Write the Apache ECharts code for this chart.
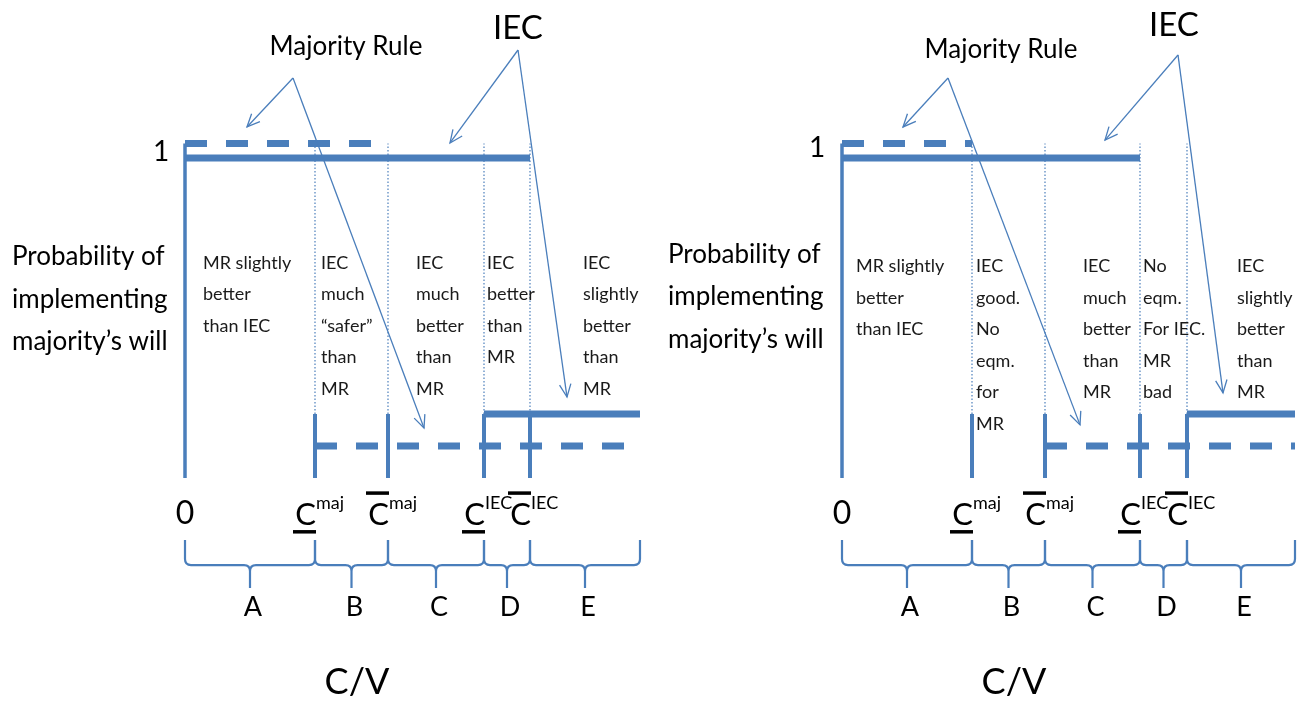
<!DOCTYPE html>
<html>
<head>
<meta charset="utf-8">
<title>MR vs IEC</title>
<script src="https://cdn.jsdelivr.net/npm/echarts@6.0.0/dist/echarts.min.js"></script>
<style>
html, body { margin: 0; padding: 0; background: #fff; }
#chart { width: 1307px; height: 703px; }
</style>
</head>
<body>
<div id="chart"></div>
<script>
// cut points on C/V: 0, C_maj, Cbar_maj, C_IEC, Cbar_IEC ; then end of axis
var cutsLeft = [0, 130, 203, 299, 345];
var endLeft = 455;
var cutsRight = [0, 130, 203, 298, 345];
var endRight = 453;

// probability levels [high, low]. MR is drawn a hair above IEC so both show
var iecLevels = [1, 0.2];
var mrLevels = [1.045, 0.1];

var tickSup = ['', 'maj', 'maj', 'IEC', 'IEC'];
var tickBar = ['', 'under', 'over', 'under', 'over'];
var regionLetters = ['A', 'B', 'C', 'D', 'E'];

var notesLeft = [
    'MR slightly\nbetter\nthan IEC',
    'IEC\nmuch\n“safer”\nthan\nMR',
    'IEC\nmuch\nbetter\nthan\nMR',
    'IEC\nbetter\nthan\nMR',
    'IEC\nslightly\nbetter\nthan\nMR'
];
var notesRight = [
    'MR slightly\nbetter\nthan IEC',
    'IEC\ngood.\nNo\neqm.\nfor\nMR',
    'IEC\nmuch\nbetter\nthan\nMR',
    'No\neqm.\nFor IEC.\nMR\nbad',
    'IEC\nslightly\nbetter\nthan\nMR'
];
var yTitle = 'Probability of\nimplementing\nmajority’s will';
var xTitle = 'C/V';
var mrName = 'Majority Rule';
var iecName = 'IEC';

var blue = '#4a7ebb';
var font = 'Lato, "Open Sans", sans-serif';

// which cut each step starts / stops at, text offsets etc.
var panels = [
    {
        cuts: cutsLeft, end: endLeft, notes: notesLeft,
        iecHighTo: 4, iecLowFrom: 3, mrHighTo: 2, mrLowFrom: 1,
        notePad: [18, 6, 28, 3, 53], noteTop: 0.721, titleTop: 0.757, titleX: -173,
        one: [-24, 1.02], mrLabel: [161, 1.347], iecLabel: [333, 1.406],
        mrArrows: [[108, 1.25], [62, 1.097], [239, 0.156]],
        iecArrows: [[333, 1.3375], [265, 1.047], [382, 0.253]]
    },
    {
        cuts: cutsRight, end: endRight, notes: notesRight,
        iecHighTo: 3, iecLowFrom: 4, mrHighTo: 1, mrLowFrom: 2,
        notePad: [14, 4, 38, 3, 50], noteTop: 0.71, titleTop: 0.766, titleX: -174,
        one: [-25, 1.03], mrLabel: [159, 1.34], iecLabel: [332, 1.416],
        mrArrows: [[106, 1.25], [61, 1.097], [238, 0.166]],
        iecArrows: [[336, 1.322], [263, 1.056], [381, 0.266]]
    }
];

var chart = echarts.init(document.getElementById('chart'));

function lineSeries(k, pts, width, type, z) {
    return {
        type: 'line', xAxisIndex: k, yAxisIndex: k, data: pts,
        showSymbol: false, silent: true, animation: false, z: z || 3,
        lineStyle: { color: blue, width: width, type: type || 'solid', cap: 'butt' }
    };
}

function drawPanel(p, api) {
    var kids = [];
    function pt(x, y) { return api.coord([x, y]); }
    function text(x, y, str, size, align, vAlign, extra) {
        var c = pt(x, y);
        var st = {
            text: str, fontSize: size, fontFamily: font, fill: '#000',
            align: align || 'center', verticalAlign: vAlign || 'middle'
        };
        if (extra) {
            for (var key in extra) st[key] = extra[key];
        }
        kids.push({ type: 'text', x: c[0], y: c[1], style: st });
    }
    function arrow(from, to) {
        var a = pt(from[0], from[1]), b = pt(to[0], to[1]);
        var ang = Math.atan2(a[1] - b[1], a[0] - b[0]);
        var L = 14, w = 0.42;
        kids.push({ type: 'line', shape: { x1: a[0], y1: a[1], x2: b[0], y2: b[1] },
            style: { stroke: blue, lineWidth: 1.3 } });
        kids.push({ type: 'polyline', shape: { points: [
            [b[0] + L * Math.cos(ang + w), b[1] + L * Math.sin(ang + w)], b,
            [b[0] + L * Math.cos(ang - w), b[1] + L * Math.sin(ang - w)]] },
            style: { stroke: blue, lineWidth: 1.3, fill: null } });
    }

    var cuts = p.cuts;
    var bounds = cuts.concat([p.end]);

    // region notes
    for (var i = 0; i < p.notes.length; i++) {
        text(cuts[i] + p.notePad[i], p.noteTop, p.notes[i], 18, 'left', 'top',
            { lineHeight: 31.5, fill: '#1a1a1a' });
    }

    // axis titles and labels
    text(p.titleX, p.titleTop, yTitle, 26, 'left', 'top', { lineHeight: 42.5 });
    text(p.one[0], p.one[1], '1', 28);
    text(p.mrLabel[0], p.mrLabel[1], mrName, 26);
    text(p.iecLabel[0], p.iecLabel[1], iecName, 33);
    text(172, -0.6375, xTitle, 36);

    // tick labels at the cut points
    for (var j = 0; j < cuts.length; j++) {
        var c = cuts[j];
        if (j === 0) {
            text(c, -0.1125, '0', 32);
            continue;
        }
        text(c + 1, -0.116, 'C', 31, 'right');
        text(c + 1, -0.08, tickSup[j], 18, 'left');
        var by = tickBar[j] === 'under' ? -0.168 : -0.047;
        var b0 = pt(c - 22, by), b1 = pt(c + 1, by);
        kids.push({ type: 'rect', shape: { x: b0[0], y: b0[1] - 1.7, width: b1[0] - b0[0], height: 3.5 },
            style: { fill: '#000' } });
    }

    // braces under the axis and region letters
    var yTop = pt(0, -0.194)[1], yMid = pt(0, -0.272)[1], yTip = pt(0, -0.344)[1], r = 6;
    for (var s = 0; s < bounds.length - 1; s++) {
        var xa = pt(bounds[s], 0)[0], xb = pt(bounds[s + 1], 0)[0], xm = (xa + xb) / 2;
        var d = 'M' + xa + ' ' + yTop + ' L' + xa + ' ' + (yMid - r) +
            ' Q' + xa + ' ' + yMid + ' ' + (xa + r) + ' ' + yMid +
            ' L' + (xm - r) + ' ' + yMid + ' Q' + xm + ' ' + yMid + ' ' + xm + ' ' + (yMid + r) +
            ' L' + xm + ' ' + yTip +
            ' M' + xm + ' ' + (yMid + r) + ' Q' + xm + ' ' + yMid + ' ' + (xm + r) + ' ' + yMid +
            ' L' + (xb - r) + ' ' + yMid + ' Q' + xb + ' ' + yMid + ' ' + xb + ' ' + (yMid - r) +
            ' L' + xb + ' ' + yTop;
        kids.push({ type: 'path', shape: { pathData: d }, style: { stroke: blue, lineWidth: 2.2, fill: null } });
        text((bounds[s] + bounds[s + 1]) / 2 + 3, -0.403, regionLetters[s], 27);
    }

    // arrows from the line names
    arrow(p.mrArrows[0], p.mrArrows[1]);
    arrow(p.mrArrows[0], p.mrArrows[2]);
    arrow(p.iecArrows[0], p.iecArrows[1]);
    arrow(p.iecArrows[0], p.iecArrows[2]);

    return kids;
}

var series = [];
panels.forEach(function (p, k) {
    var cuts = p.cuts;
    // IEC (solid) and MR (dashed) step lines
    series.push(lineSeries(k, [[0, iecLevels[0]], [cuts[p.iecHighTo], iecLevels[0]]], 7));
    series.push(lineSeries(k, [[cuts[p.iecLowFrom], iecLevels[1]], [p.end, iecLevels[1]]], 7));
    series.push(lineSeries(k, [[0, mrLevels[0]], [cuts[p.mrHighTo], mrLevels[0]]], 7, [22, 19]));
    series.push(lineSeries(k, [[cuts[p.mrLowFrom], mrLevels[1]], [p.end, mrLevels[1]]], 7, [22, 19]));
    // vertical axis and the short solid risers
    series.push(lineSeries(k, [[0, 0], [0, mrLevels[0]]], 3.5));
    for (var i = 1; i < cuts.length; i++) {
        series.push(lineSeries(k, [[cuts[i], 0], [cuts[i], iecLevels[1]]], 4));
        series.push(lineSeries(k, [[cuts[i], iecLevels[1]], [cuts[i], mrLevels[0]]], 1.2, [1.5, 2], 2));
    }
    series.push({
        type: 'custom', xAxisIndex: k, yAxisIndex: k, data: [[0, 0]],
        silent: true, animation: false, z: 5,
        renderItem: function (params, api) {
            return { type: 'group', children: drawPanel(p, api) };
        }
    });
});

chart.setOption({
    animation: false,
    grid: [
        { left: 0, top: 14, width: 655, height: 688 },
        { left: 657, top: 14, width: 650, height: 688 }
    ],
    xAxis: [
        { type: 'value', gridIndex: 0, min: -185, max: 470, show: false },
        { type: 'value', gridIndex: 1, min: -185, max: 465, show: false }
    ],
    yAxis: [
        { type: 'value', gridIndex: 0, min: -0.7, max: 1.45, show: false },
        { type: 'value', gridIndex: 1, min: -0.7, max: 1.45, show: false }
    ],
    series: series
});
</script>
</body>
</html>
